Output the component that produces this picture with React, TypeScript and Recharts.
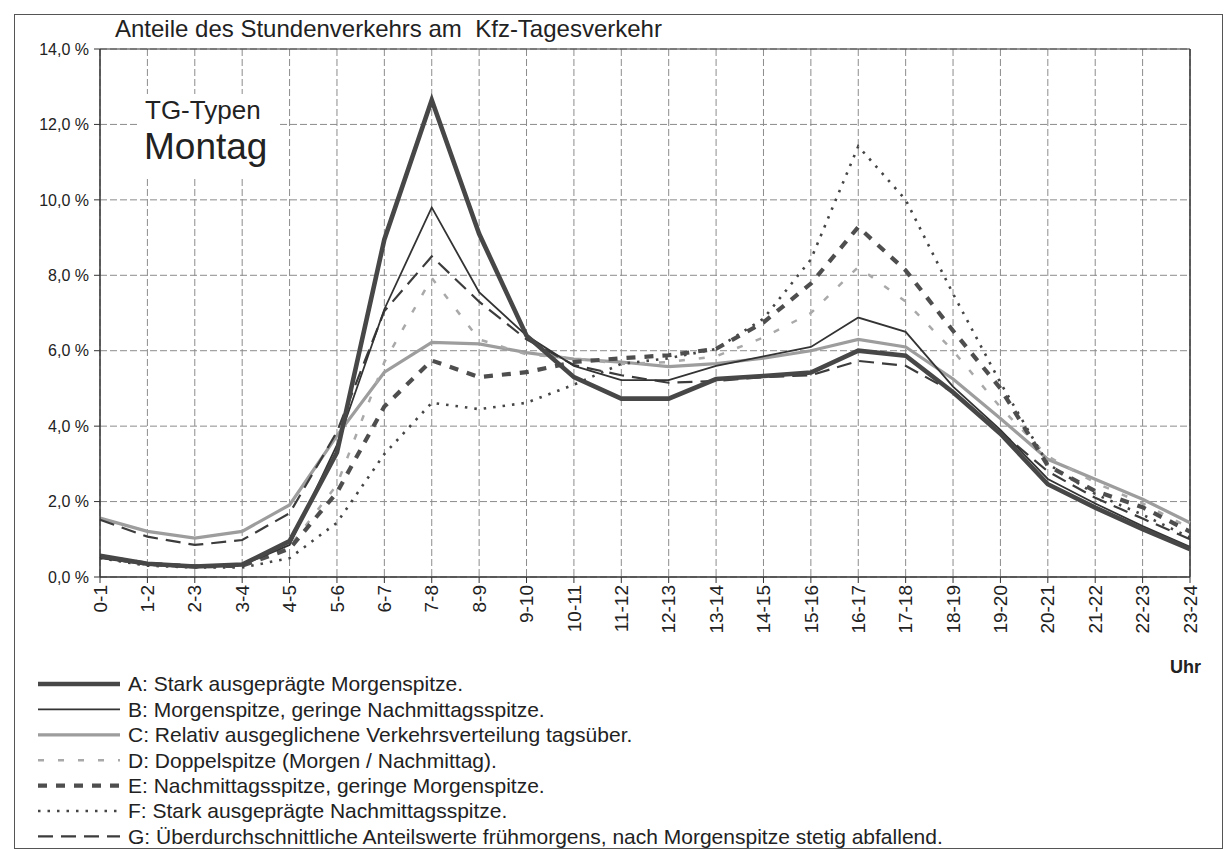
import { LineChart, Line, XAxis, YAxis, CartesianGrid, ReferenceLine } from 'recharts'

const hours = [
  '0-1', '1-2', '2-3', '3-4', '4-5', '5-6', '6-7', '7-8', '8-9', '9-10', '10-11', '11-12',
  '12-13', '13-14', '14-15', '15-16', '16-17', '17-18', '18-19', '19-20', '20-21', '21-22', '22-23', '23-24',
]

// Anteile in % je Stunde
const typA = [0.56, 0.35, 0.28, 0.33, 0.95, 3.3, 8.95, 12.65, 9.1, 6.4, 5.3, 4.73, 4.73, 5.25, 5.33, 5.42, 6.0, 5.87, 4.9, 3.8, 2.46, 1.84, 1.27, 0.74]
const typB = [0.5, 0.33, 0.27, 0.32, 0.85, 3.5, 7.1, 9.8, 7.55, 6.4, 5.6, 5.22, 5.22, 5.6, 5.85, 6.1, 6.88, 6.5, 5.05, 3.9, 2.6, 1.95, 1.35, 0.8]
const typC = [1.56, 1.21, 1.03, 1.21, 1.91, 3.75, 5.43, 6.22, 6.18, 5.95, 5.78, 5.7, 5.58, 5.66, 5.8, 6.0, 6.3, 6.1, 5.25, 4.2, 3.12, 2.59, 2.06, 1.44]
const typD = [0.55, 0.35, 0.28, 0.33, 0.8, 2.45, 5.7, 7.93, 6.3, 5.9, 5.8, 5.65, 5.7, 5.85, 6.35, 7.0, 8.22, 7.3, 6.0, 4.5, 3.2, 2.5, 1.95, 1.3]
const typE = [0.55, 0.35, 0.28, 0.3, 0.75, 2.24, 4.52, 5.74, 5.3, 5.43, 5.7, 5.8, 5.88, 6.05, 6.75, 7.78, 9.28, 8.13, 6.53, 5.0, 2.95, 2.28, 1.85, 1.2]
const typF = [0.5, 0.3, 0.25, 0.25, 0.5, 1.44, 3.26, 4.62, 4.45, 4.62, 5.1, 5.65, 5.8, 6.05, 6.85, 8.42, 11.42, 10.0, 7.51, 5.15, 3.0, 2.2, 1.65, 1.05]
const typG = [1.52, 1.07, 0.85, 0.98, 1.69, 3.85, 7.05, 8.5, 7.3, 6.3, 5.62, 5.35, 5.15, 5.2, 5.3, 5.35, 5.73, 5.6, 4.9, 3.85, 2.8, 2.1, 1.55, 1.0]

const yTicks = [0, 2, 4, 6, 8, 10, 12, 14]

const data = hours.map((hour, i) => ({
  hour,
  A: typA[i], B: typB[i], C: typC[i], D: typD[i], E: typE[i], F: typF[i], G: typG[i],
}))

const series = [
  { key: 'C', name: 'C: Relativ ausgeglichene Verkehrsverteilung tagsüber.', stroke: '#9d9d9d', width: 3.2, dash: undefined },
  { key: 'D', name: 'D: Doppelspitze (Morgen / Nachmittag).', stroke: '#a9a9a9', width: 2.5, dash: '6 14' },
  { key: 'F', name: 'F: Stark ausgeprägte Nachmittagsspitze.', stroke: '#454545', width: 2.6, dash: '2.5 7' },
  { key: 'E', name: 'E: Nachmittagsspitze, geringe Morgenspitze.', stroke: '#4e4e4e', width: 4.2, dash: '9 9' },
  { key: 'G', name: 'G: Überdurchschnittliche Anteilswerte frühmorgens, nach Morgenspitze stetig abfallend.', stroke: '#3c3c3c', width: 2.2, dash: '15 8' },
  { key: 'B', name: 'B: Morgenspitze, geringe Nachmittagsspitze.', stroke: '#333333', width: 1.8, dash: undefined },
  { key: 'A', name: 'A: Stark ausgeprägte Morgenspitze.', stroke: '#474747', width: 4.6, dash: undefined },
]
const legendOrder = ['A', 'B', 'C', 'D', 'E', 'F', 'G']

const font = "'Liberation Sans', Arial, sans-serif"
const ink = '#222'

function HourTick({ x, y, payload }: any) {
  return (
    <text
      x={x}
      y={y}
      transform={`rotate(-90 ${x} ${y})`}
      textAnchor="end"
      dy="0.35em"
      fontSize={19}
      fill={ink}
      fontFamily={font}
    >
      {payload.value}
    </text>
  )
}

export default function App() {
  return (
    <div style={{ position: 'relative', width: 1227, height: 850, fontFamily: font, background: '#fff' }}>
      <style>{'body{margin:0}'}</style>
      <LineChart width={1227} height={850} data={data} margin={{ top: 49, right: 37, left: 0, bottom: 213 }}>
        <CartesianGrid stroke="#8c8c8c" strokeDasharray="7 3" />
        <XAxis
          dataKey="hour"
          interval={0}
          height={60}
          tick={<HourTick />}
          tickSize={6}
          tickMargin={2}
          stroke="#333"
          axisLine={{ stroke: '#333', strokeWidth: 1.5 }}
          tickLine={{ stroke: '#333' }}
        />
        <YAxis
          domain={[0, 14]}
          ticks={yTicks}
          width={100}
          tickSize={6}
          tickMargin={5}
          tickFormatter={v => `${v.toFixed(1).replace('.', ',')} %`}
          tick={{ fontSize: 16, fill: ink, fontFamily: font }}
          axisLine={{ stroke: '#333', strokeWidth: 1.5 }}
          tickLine={{ stroke: '#333' }}
        />
        <ReferenceLine y={14} stroke="#333" strokeWidth={1.2} />
        <ReferenceLine x="23-24" stroke="#333" strokeWidth={1.5} />
        {series.map(s => (
          <Line
            key={s.key}
            type="linear"
            dataKey={s.key}
            name={s.name}
            stroke={s.stroke}
            strokeWidth={s.width}
            strokeDasharray={s.dash}
            dot={false}
            activeDot={false}
            isAnimationActive={false}
          />
        ))}
      </LineChart>

      {/* Rahmen */}
      <div style={{ position: 'absolute', left: 14, top: 14, width: 1207, height: 833, border: '1.5px solid #555', pointerEvents: 'none' }} />

      <div style={{ position: 'absolute', left: 115, top: 15, fontSize: 24, color: ink, whiteSpace: 'pre' }}>
        Anteile des Stundenverkehrs am  Kfz-Tagesverkehr
      </div>

      <div style={{ position: 'absolute', left: 137, top: 94, width: 143, height: 82, background: '#fff' }}>
        <div style={{ position: 'absolute', left: 8, top: 1, fontSize: 26, color: ink, whiteSpace: 'nowrap' }}>TG-Typen</div>
        <div style={{ position: 'absolute', left: 7, top: 32, fontSize: 37, color: ink, whiteSpace: 'nowrap' }}>Montag</div>
      </div>

      <div style={{ position: 'absolute', left: 1170, top: 657, fontSize: 18, fontWeight: 'bold', color: ink }}>Uhr</div>

      <svg style={{ position: 'absolute', left: 0, top: 660 }} width={1000} height={190}>
        {legendOrder.map((k, i) => {
          const s = series.find(x => x.key === k)!
          const cy = 24 + i * 25.4
          return (
            <g key={k}>
              <line x1={38} x2={120} y1={cy} y2={cy} stroke={s.stroke} strokeWidth={s.width} strokeDasharray={s.dash} />
              <text x={128} y={cy} dy="0.35em" fontSize={21} fill={ink} fontFamily={font}>{s.name}</text>
            </g>
          )
        })}
      </svg>
    </div>
  )
}
